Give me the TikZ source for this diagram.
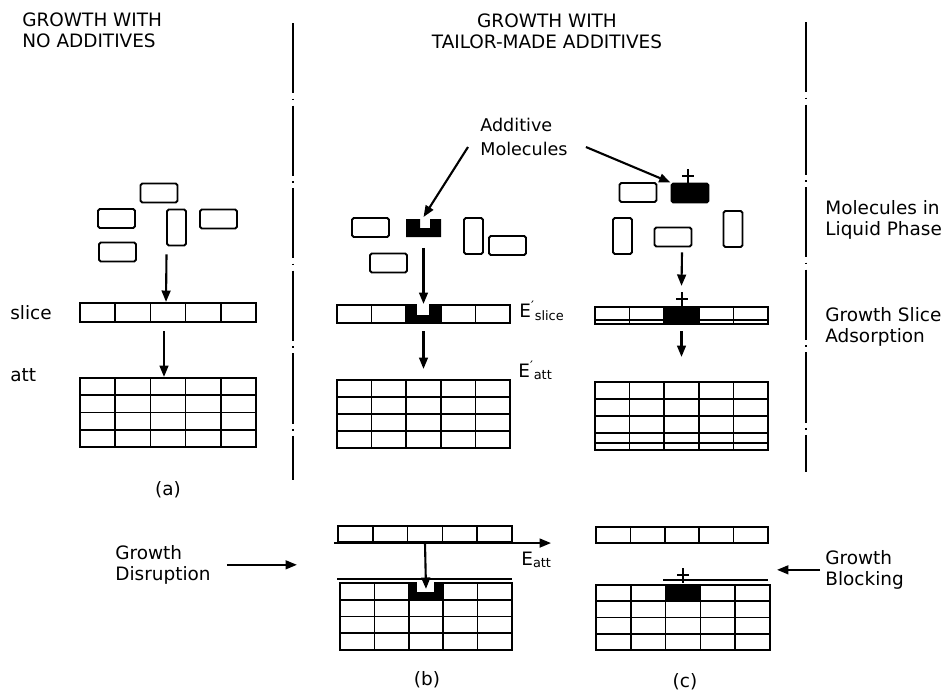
\documentclass[tikz,border=0pt]{standalone}
\usepackage{fontspec}
\setmainfont{DejaVu Sans}
\usetikzlibrary{arrows.meta, positioning, fit, calc}

\begin{document}
\begin{tikzpicture}[x=0.02cm, y=-0.02cm,
  cell/.style={line width=0.9pt},
  slab/.style={draw, line width=1.2pt, inner sep=0pt},
  mol/.style={draw, line width=1.1pt, rounded corners=1pt, minimum width=0.74cm, minimum height=0.38cm, inner sep=0pt},
  molv/.style={mol, minimum width=0.38cm, minimum height=0.72cm},
  additive/.style={mol, fill=black},
  arr/.style={line width=1.2pt, -{Triangle[length=6.5pt, width=5pt]}},
  divider/.style={line width=0.8pt, dash pattern=on 40pt off 3pt on 1pt off 3pt},
  head/.style={font=\fontsize{10.5}{12}\selectfont, inner sep=0pt},
  lbl/.style={font=\fontsize{10.5}{12}\selectfont, align=left, inner sep=0pt}
]
  \useasboundingbox (0,0) rectangle (950,693);

  % headings and panel dividers
  \node[head, align=left, anchor=north west] (hdnone) at (22,12) {GROWTH WITH\\NO ADDITIVES};
  \node[head, align=center, anchor=north] (hdtailor) at (547,13) {GROWTH WITH\\TAILOR-MADE ADDITIVES};
  \draw[divider] (293,23) -- (293,480);
  \draw[divider] (806,22) -- (806,472);

  % molecules in the liquid
  \node[mol]  (a1) at (159,193) {};
  \node[mol]  (a2) at (116.5,218.5) {};
  \node[molv] (a3) at (176.5,227.5) {};
  \node[mol]  (a4) at (218.5,219) {};
  \node[mol]  (a5) at (117.5,252) {};

  \node[mol]  (b1) at (370.5,227.5) {};
  \node[molv] (b3) at (473.5,236) {};
  \node[mol]  (b4) at (507.5,245.5) {};
  \node[mol]  (b5) at (388.5,263) {};
  \fill (406,219) -- (420,219) -- (420,228) -- (430,228) -- (430,219) -- (441,219) -- (441,237) -- (406,237) -- cycle;
  \coordinate (badd) at (423.5,219);

  \node[mol]  (c1) at (638,192.5) {};
  \node[additive] (cadd) at (690,193) {};
  \node[molv] (c3) at (622.5,236) {};
  \node[mol]  (c4) at (673,237) {};
  \node[molv] (c5) at (733,229) {};

  % growth slices
  \foreach \nm/\xa/\ya/\xb/\yb in {aslice/80/303/256/322, bslice/337/305/510/323, cslice/595/307/768/324, bslice2/338/526/512/542, cslice2/596/527/768/543} {
    \node[slab, fit={(\xa,\ya) (\xb,\yb)}] (\nm) {};
    \foreach \k in {1,...,4} {
      \pgfmathsetmacro{\xk}{\xa+\k*(\xb-\xa)/5}
      \draw[cell] (\xk,\ya) -- (\xk,\yb);
    }
  }

  % crystal blocks
  \foreach \nm/\xa/\ya/\xb/\yb in {ablock/80/378/256/447, bblock/337/380/510/448, cblock/595/382/768/450, bblock2/340/583/512/650, cblock2/596/585/770/650} {
    \node[slab, fit={(\xa,\ya) (\xb,\yb)}] (\nm) {};
    \foreach \k in {1,...,4} {
      \pgfmathsetmacro{\xk}{\xa+\k*(\xb-\xa)/5}
      \draw[cell] (\xk,\ya) -- (\xk,\yb);
    }
    \foreach \r in {1,2,3} {
      \pgfmathsetmacro{\yr}{\ya+\r*(\yb-\ya)/4}
      \draw[cell] (\xa,\yr) -- (\xb,\yr);
    }
  }
  \draw[cell] (595,320) -- (768,320);
  \draw[cell] (595,443) -- (768,443);
  \draw[slab] (337,579) -- (512,579);
  \draw[slab] (663,580) -- (768,580);

  % adsorbed additive
  \fill (406.2,305) -- (417,305) -- (417,315) -- (429,315) -- (429,305) -- (440.8,305) -- (440.8,323) -- (406.2,323) -- cycle;
  \fill[white] (417,302.5) rectangle (429,315);
  \fill (408.8,583) -- (417,583) -- (417,592) -- (434,592) -- (434,583) -- (443.2,583) -- (443.2,600) -- (408.8,600) -- cycle;
  \fill[white] (417,581.5) rectangle (434,592);
  \fill (664.2,307) rectangle (698.8,324);
  \fill (665.6,585) rectangle (700.4,602);
  \foreach \px/\py in {688/176, 682/299, 683/575} {
    \draw[cell] (\px-6,\py) -- (\px+6,\py);
    \draw[cell] (\px,\py-7) -- (\px,\py+8);
  }

  % arrows
  \draw[arr] ([xshift=-0.2cm, yshift=-0.16cm]a3.south) -- ([xshift=-0.04cm]aslice.north);
  \draw[arr] ([xshift=-0.08cm, yshift=-0.16cm]aslice.south) -- ([xshift=-0.08cm]ablock.north);
  \draw[arr] ([yshift=-0.58cm]badd) -- (bslice.north);
  \draw[arr] ([yshift=-0.14cm]bslice.south) -- ([yshift=0.2cm]bblock.north);
  \draw[arr] ([xshift=0.18cm, yshift=-0.1cm]c4.south) -- ([yshift=0.4cm]cslice.north);
  \draw[arr] ([yshift=-0.12cm]cslice.south) -- ([yshift=0.48cm]cblock.north);
  \draw[arr] (bslice2.south) -- ([yshift=-0.14cm]bblock2.north);
  \draw[arr] ([xshift=-0.06cm]bslice2.south west) -- ([xshift=0.76cm]bslice2.south east);

  % labels
  \node[lbl, font=\fontsize{10}{13.5}\selectfont, anchor=north west] (addlbl) at (480,118) {Additive\\Molecules};
  \draw[arr] ([xshift=-0.24cm, yshift=-0.2cm]addlbl.west) -- ([yshift=0.04cm]badd);
  \draw[arr] ([xshift=0.36cm, yshift=-0.2cm]addlbl.east) -- (cadd.north west);

  \node[lbl, anchor=north west] (liquid) at (825,200) {Molecules in\\Liquid Phase};
  \node[lbl, anchor=north west] (adsorb) at (825,307) {Growth Slice\\Adsorption};
  \node[lbl, anchor=west] (slice) at (10,313) {slice};
  \node[lbl, anchor=west] (att) at (10,375) {att};
  \node[lbl, anchor=base west] (eslice) at (519,317) {E\textsuperscript{′}\textsubscript{slice}};
  \node[lbl, anchor=base west] (eatt) at (518,377) {E\textsuperscript{′}\textsubscript{att}};
  \node[lbl, anchor=base west] (eatt2) at (521,565) {E\textsubscript{att}};

  \node[lbl, anchor=north west] (disrupt) at (115,545) {Growth\\Disruption};
  \draw[arr] ([xshift=0.32cm]disrupt.east) -- ++(70,0);
  \node[lbl, anchor=north west] (block) at (825,550) {Growth\\Blocking};
  \draw[arr] ([xshift=-0.1cm]block.west) -- ++(-43,0);

  \node[lbl] (capa) at (168,490) {(a)};
  \node[lbl] (capb) at (427,680) {(b)};
  \node[lbl] (capc) at (685,682) {(c)};
\end{tikzpicture}
\end{document}
